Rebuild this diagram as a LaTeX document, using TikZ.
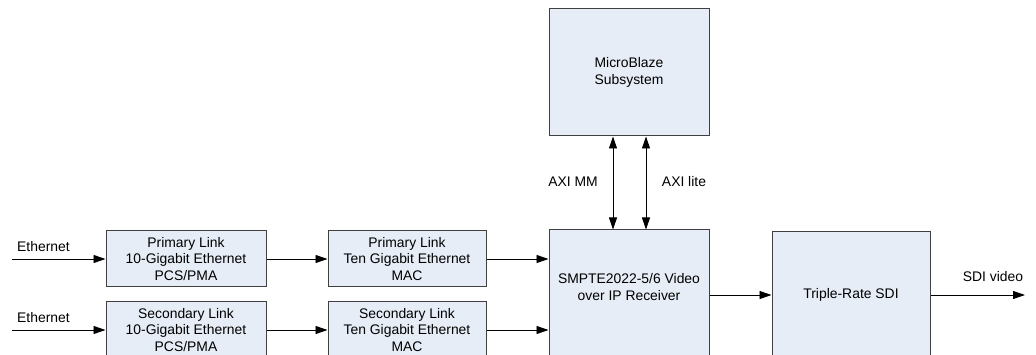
\documentclass[tikz,border=0pt]{standalone}
\usepackage{fontspec}
\setmainfont{Liberation Sans}
\usetikzlibrary{arrows.meta}
\definecolor{boxfill}{RGB}{231,237,246}
\definecolor{boxline}{RGB}{64,64,64}
\tikzset{
  block/.style={draw=boxline, fill=boxfill, line width=1pt, inner sep=0pt,
    align=center, font=\fontsize{13.9}{16.5}\selectfont},
  lbl/.style={inner sep=0pt, font=\fontsize{13.9}{16.5}\selectfont},
  link/.style={line width=0.9pt, -{Triangle[length=12pt,width=8pt]}},
  bilink/.style={line width=0.9pt, {Triangle[length=12pt,width=8pt]}-{Triangle[length=12pt,width=8pt]}}
}
\begin{document}
\begin{tikzpicture}[x=1pt, y=-1pt]
\useasboundingbox (0,0) rectangle (1036,355);
\clip (0,0) rectangle (1036,355);
\fill[white] (0,0) rectangle (1036,355);

% processing blocks
\node[block, minimum width=160pt, minimum height=56pt] (pcs1) at (186,259)
  {Primary Link\\10-Gigabit Ethernet\\PCS/PMA};
\node[block, minimum width=160pt, minimum height=56pt] (pcs2) at (186,330)
  {Secondary Link\\10-Gigabit Ethernet\\PCS/PMA};
\node[block, minimum width=158pt, minimum height=56pt] (mac1) at (407,259)
  {Primary Link\\Ten Gigabit Ethernet\\MAC};
\node[block, minimum width=158pt, minimum height=56pt] (mac2) at (407,330)
  {Secondary Link\\Ten Gigabit Ethernet\\MAC};
\node[block, minimum width=160pt, minimum height=130pt] (smpte) at (629,295) {};
\node[lbl, align=center] (smptetxt) at (629,287) {SMPTE2022-5/6 Video\\over IP Receiver};
\node[block, minimum width=160pt, minimum height=127pt] (mb) at (629,72.5)
  {MicroBlaze\\Subsystem};
\node[block, minimum width=158pt, minimum height=126pt] (sdi) at (851,295)
  {Triple-Rate SDI};

% free ends of the external connections
\coordinate (eth1) at (12,259);
\coordinate (eth2) at (12,330);
\coordinate (vout) at (1025,295);

% connectors
\draw[link] (eth1) -- (pcs1.west);
\draw[link] (eth2) -- (pcs2.west);
\draw[link] (pcs1.east) -- (mac1.west);
\draw[link] (pcs2.east) -- (mac2.west);
\draw[link] (mac1.east) -- (mac1.east -| smpte.west);
\draw[link] (mac2.east) -- (mac2.east -| smpte.west);
\draw[bilink] ([xshift=-16pt]mb.south) -- ([xshift=-16pt]smpte.north);
\draw[bilink] ([xshift=17pt]mb.south) -- ([xshift=17pt]smpte.north);
\draw[link] (smpte.east |- sdi.west) -- (sdi.west);
\draw[link] (sdi.east) -- (vout);

% connector labels
\node[lbl, anchor=west] (ethlbl1) at (17,247) {Ethernet};
\node[lbl, anchor=west] (ethlbl2) at (17,318) {Ethernet};
\node[lbl] (axmm) at (573,182) {AXI MM};
\node[lbl] (axlite) at (684,182) {AXI lite};
\node[lbl] (sdilbl) at (993,277) {SDI video};
\end{tikzpicture}
\end{document}
